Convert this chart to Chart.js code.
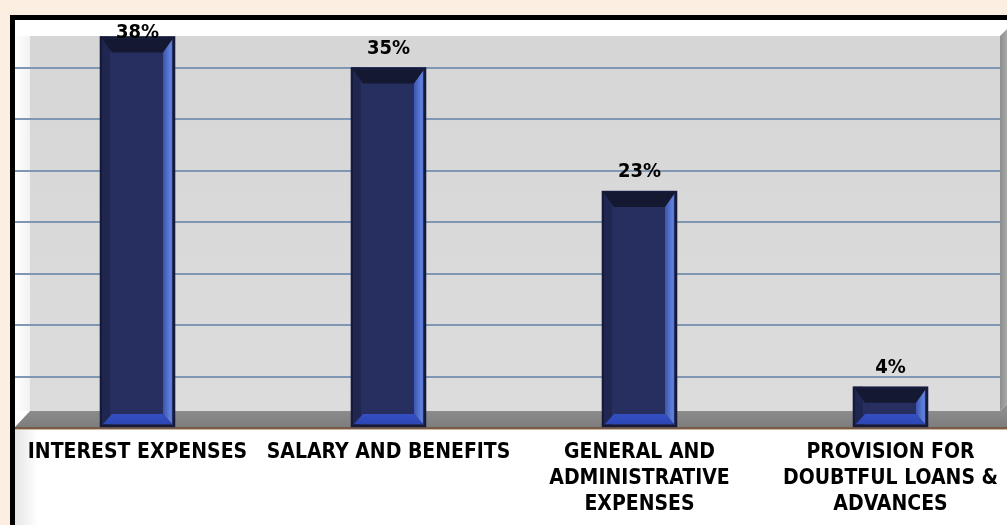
<!DOCTYPE html>
<html>
<head>
<meta charset="utf-8">
<script src="https://cdn.jsdelivr.net/npm/chart.js@4.4.1/dist/chart.umd.min.js"></script>
<style>
html,body{margin:0;padding:0;background:#fdeee2;overflow:hidden;width:1007px;height:525px;}
#wrap{position:absolute;left:0;top:0;width:1016px;height:525px;}
</style>
</head>
<body>
<div id="wrap"><canvas id="c" width="1016" height="525"></canvas></div>
<script>
const categories = [
  ["INTEREST EXPENSES"],
  ["SALARY AND BENEFITS"],
  ["GENERAL AND", "ADMINISTRATIVE", "EXPENSES"],
  ["PROVISION FOR", "DOUBTFUL LOANS &", "ADVANCES"]
];
const values = [38, 35, 23, 4];
const valueLabels = ["38%", "35%", "23%", "4%"];
const yTicks = [0, 5, 10, 15, 20, 25, 30, 35, 40];

const FONT = "'DejaVu Sans Condensed', 'DejaVu Sans', sans-serif";

const background = {
  id: 'background',
  beforeDraw(chart) {
    const ctx = chart.ctx;
    ctx.save();
    ctx.fillStyle = '#fdeee2';
    ctx.fillRect(0, 0, 1016, 525);
    ctx.fillStyle = '#000';
    ctx.fillRect(10, 15, 1006, 510);
    ctx.fillStyle = '#fff';
    ctx.fillRect(15, 20, 1001, 505);
    const lw = ctx.createLinearGradient(15, 0, 30, 0);
    lw.addColorStop(0, '#ffffff');
    lw.addColorStop(1, '#f2f2f2');
    ctx.fillStyle = lw;
    ctx.fillRect(15, 36, 15, 375);
    const bw = ctx.createLinearGradient(0, 36, 0, 411);
    bw.addColorStop(0, '#d6d6d6');
    bw.addColorStop(1, '#dcdcdc');
    ctx.fillStyle = bw;
    ctx.fillRect(30, 36, 970, 375);
    const sh = ctx.createLinearGradient(15, 0, 38, 0);
    sh.addColorStop(0, '#e6e6e6');
    sh.addColorStop(1, '#ffffff');
    ctx.fillStyle = sh;
    ctx.fillRect(15, 430, 23, 95);
    ctx.restore();
  },
  beforeDatasetsDraw(chart) {
    const ctx = chart.ctx;
    ctx.save();
    ctx.fillStyle = '#000';
    ctx.fillRect(10, 15, 5, 510);
    const rw = ctx.createLinearGradient(1000, 0, 1007, 0);
    rw.addColorStop(0, '#8e8e8e');
    rw.addColorStop(1, '#a8a8a8');
    ctx.fillStyle = rw;
    ctx.beginPath();
    ctx.moveTo(1000, 36); ctx.lineTo(1016, 20); ctx.lineTo(1016, 395); ctx.lineTo(1000, 411);
    ctx.closePath(); ctx.fill();
    const fl = ctx.createLinearGradient(0, 411, 0, 427);
    fl.addColorStop(0, '#8c8c8c');
    fl.addColorStop(1, '#7d7d7d');
    ctx.fillStyle = fl;
    ctx.beginPath();
    ctx.moveTo(30, 411); ctx.lineTo(1000, 411); ctx.lineTo(1016, 395); ctx.lineTo(1016, 427);
    ctx.lineTo(15, 427); ctx.closePath(); ctx.fill();
    ctx.fillStyle = '#7a5a44';
    ctx.fillRect(15, 427, 1001, 2);
    ctx.fillStyle = '#c9b7a8';
    ctx.fillRect(15, 429, 1001, 1);
    ctx.restore();
  }
};

const bevel = {
  id: 'bevel',
  afterDatasetsDraw(chart) {
    const ctx = chart.ctx;
    const meta = chart.getDatasetMeta(0);
    ctx.save();
    meta.data.forEach((bar, i) => {
      const w = bar.width;
      const l = bar.x - w / 2, r = bar.x + w / 2;
      const t = bar.y, b = bar.base;
      const h = b - t;
      const inset = Math.min(10, h / 3);
      ctx.fillStyle = '#1f2650';
      ctx.fillRect(l, t, 10, h);
      const rg = ctx.createLinearGradient(r - 12, 0, r, 0);
      rg.addColorStop(0, '#3b55b0');
      rg.addColorStop(0.6, '#5f80dc');
      rg.addColorStop(1, '#4563c2');
      ctx.fillStyle = rg;
      ctx.beginPath();
      ctx.moveTo(r - 3, t + 3); ctx.lineTo(r - 3, b - 3);
      ctx.lineTo(r - 12, b - 3 - inset); ctx.lineTo(r - 12, t + 3 + inset);
      ctx.closePath(); ctx.fill();
      ctx.fillStyle = '#141830';
      ctx.beginPath();
      ctx.moveTo(l + 2, t + 2); ctx.lineTo(r - 2, t + 2);
      ctx.lineTo(r - 12, t + 2 + inset + 4); ctx.lineTo(l + 12, t + 2 + inset + 4);
      ctx.closePath(); ctx.fill();
      const bg = ctx.createLinearGradient(0, b - inset - 4, 0, b);
      bg.addColorStop(0, '#3550c4');
      bg.addColorStop(1, '#2a44b0');
      ctx.fillStyle = bg;
      ctx.beginPath();
      ctx.moveTo(l + 3, b - 3); ctx.lineTo(r - 3, b - 3);
      ctx.lineTo(r - 12, b - 3 - inset); ctx.lineTo(l + 12, b - 3 - inset);
      ctx.closePath(); ctx.fill();
      ctx.strokeStyle = '#151a38';
      ctx.lineWidth = 2;
      ctx.strokeRect(l + 1, t + 1, w - 2, h - 2);
      ctx.fillStyle = '#000';
      ctx.font = "bold 20px " + FONT;
      ctx.textAlign = 'center';
      ctx.textBaseline = 'alphabetic';
      const y = Math.max(t - 14, 38);
      ctx.fillText(valueLabels[i], bar.x, y);
    });
    ctx.restore();
  }
};

new Chart(document.getElementById('c'), {
  type: 'bar',
  data: {
    labels: categories,
    datasets: [{
      data: values,
      backgroundColor: '#272f60',
      borderWidth: 0,
      barThickness: 75
    }]
  },
  options: {
    responsive: false,
    animation: false,
    events: [],
    layout: { padding: { top: 16, left: 12, right: 0, bottom: 0 } },
    plugins: { legend: { display: false }, tooltip: { enabled: false } },
    scales: {
      x: {
        grid: { display: false, drawTicks: false },
        border: { display: false },
        ticks: {
          color: '#000',
          font: { family: FONT, size: 21, weight: 'bold', lineHeight: 1.22 },
          padding: 12,
          maxRotation: 0,
          autoSkip: false
        },
        afterFit(s) { s.height = 97; }
      },
      y: {
        min: 0, max: 40,
        afterBuildTicks(s) { s.ticks = yTicks.map(v => ({ value: v })); },
        grid: {
          color: (c) => (c.tick && (c.tick.value === 0 || c.tick.value === 40)) ? 'rgba(0,0,0,0)' : '#7f97b0',
          lineWidth: 2,
          drawTicks: false
        },
        border: { display: false },
        ticks: { display: false },
        afterFit(s) { s.width = 0; }
      }
    }
  },
  plugins: [background, bevel]
});
</script>
</body>
</html>
